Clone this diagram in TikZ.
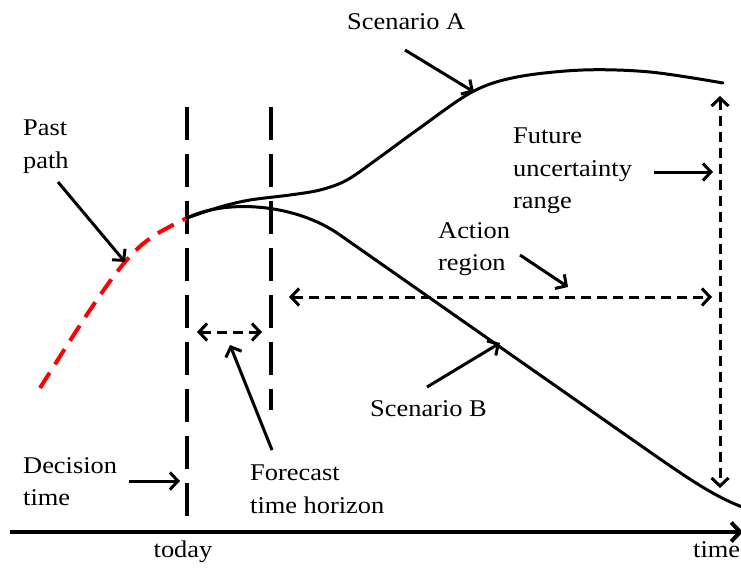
\documentclass[tikz,border=0pt]{standalone}
\usepackage{fontspec}
\setmainfont{Liberation Serif}[FakeStretch=1.1]
\usetikzlibrary{arrows.meta}
\begin{document}
\begin{tikzpicture}[x=1pt,y=-1pt,
  lbl/.style={font=\fontsize{24}{32.5}\selectfont, align=left, inner sep=0pt, anchor=north west},
  barb/.tip={Straight Barb[length=8pt,width=17pt]},
  arr/.style={line width=3pt, -barb},
  guide/.style={line width=4pt, dash pattern=on 33pt off 14pt},
  dbl/.style={line width=3pt, dash pattern=on 10pt off 6pt, barb-barb},
  curve/.style={line width=3pt, line cap=round},
  past/.style={red, line width=4pt, dash pattern=on 18pt off 10pt},
]
\useasboundingbox (0,0) rectangle (741,570);

% axis
\coordinate (axL) at (10,532);
\coordinate (axR) at (743,532);
\draw[line width=4pt, -{Straight Barb[length=9pt,width=19pt]}] (axL) -- (axR);

% guide lines
\coordinate (g1t) at (187,107); \coordinate (g1b) at (187,532);
\coordinate (g2t) at (271,107); \coordinate (g2b) at (271,410);
\draw[guide] (g1t) -- (g1b);
\draw[guide] (g2t) -- (g2b);

% past path
\coordinate (start) at (187,218);
\draw[past] plot[smooth, tension=0.6] coordinates {(40,388) (90,310) (125,262) (152,237) (start)};

% scenario A
\draw[curve] plot[smooth, tension=0.55] coordinates {(start) (220,207) (250,200) (290,195) (320,190) (347,180) (380,157) (417,130) (472,92) (517,77) (583,70) (650,72) (723,83)};
% scenario B
\draw[curve] (start) .. controls (225,199) and (295,203) .. (340,235)
  -- (640,445) .. controls (690,480) and (715,497) .. (745,508);

% labels
\node[lbl] (sA) at (347,13) {Scenario A};
\node[lbl] (pp) at (23,120) {Past\\path};
\node[lbl] (fu) at (513,128) {Future\\uncertainty\\range};
\node[lbl] (ar) at (438,222) {Action\\region};
\node[lbl] (sB) at (370,400) {Scenario B};
\node[lbl] (dt) at (23,457) {Decision\\time};
\node[lbl] (ft) at (250,465) {Forecast\\time horizon};
\node[font=\fontsize{24}{32.5}\selectfont, inner sep=0pt, anchor=base] (td) at (183,557) {today};
\node[font=\fontsize{24}{32.5}\selectfont, inner sep=0pt, anchor=base west] (tm) at (693,557) {time};

% pointer arrows
\coordinate (aAt) at (405,50); \coordinate (aAh) at (474,92);
\draw[arr] (aAt) -- (aAh);
\coordinate (pt) at (58,182); \coordinate (ph) at (125,262);
\draw[arr] (pt) -- (ph);
\coordinate (ftt) at (272,450); \coordinate (fth) at (230,345);
\draw[arr] (ftt) -- (fth);
\coordinate (dtt) at (129,481); \coordinate (dth) at (180,481);
\draw[arr] (dtt) -- (dth);
\coordinate (art) at (520,255); \coordinate (arh) at (568,287);
\draw[arr] (art) -- (arh);
\coordinate (fut) at (654,172); \coordinate (fuh) at (713,172);
\draw[arr] (fut) -- (fuh);
\coordinate (sBt) at (427,387); \coordinate (sBh) at (500,343);
\draw[arr] (sBt) -- (sBh);

% double arrows
\coordinate (fl) at (197,332); \coordinate (fr) at (262,332);
\draw[dbl] (fl) -- (fr);
\coordinate (al) at (289,297); \coordinate (ar2) at (712,297);
\draw[dbl] (al) -- (ar2);
\coordinate (ut) at (720,96); \coordinate (ub) at (720,488);
\draw[dbl] (ut) -- (ub);
\end{tikzpicture}
\end{document}
